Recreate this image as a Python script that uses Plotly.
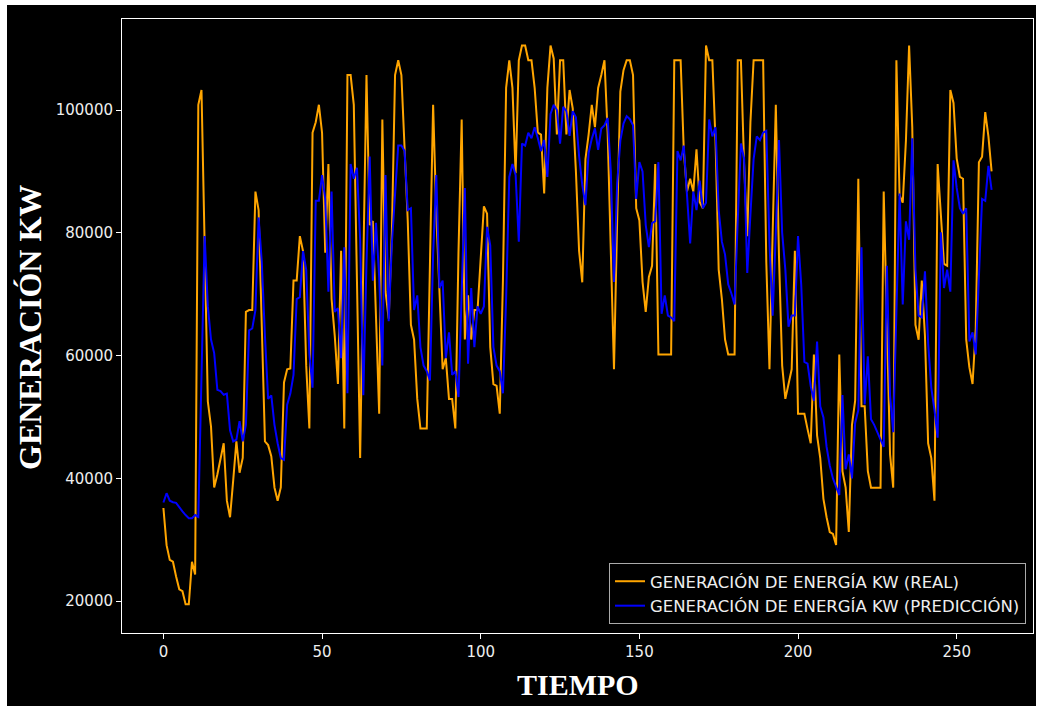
import plotly.graph_objects as go

real = [35150, 29100, 26700, 26400, 24000, 21900, 21600, 19450, 19450, 26400,
        24300, 100850, 103260, 76000, 52500, 48400, 38500, 40600, 43000, 45700,
        36350, 33650, 39700, 46000, 40900, 43300, 67100, 67400, 67400, 86700,
        83700, 64000, 46000, 45400, 43600, 38500, 36350, 38500, 55600, 57750,
        57900, 72200, 72200, 79450, 77000, 58350, 48100, 96300, 98000, 100850,
        96300, 76750, 91200, 69200, 63200, 55350, 77050, 48100, 105700, 105700,
        100850, 72000, 43300, 75000, 105700, 81260, 81900, 66200, 50500, 98450,
        70400, 66000, 80000, 105700, 108100, 105700, 93300, 82000, 65000, 62570,
        52930, 48110, 48110, 48110, 75000, 100850, 83000, 71000, 57750, 59560,
        52930, 52930, 48110, 77000, 98450, 62600, 69800, 62600, 67400, 67400,
        76000, 84300, 83100, 61370, 55350, 55050, 50520, 72200, 103600, 108100,
        103600, 89700, 108100, 110500, 110500, 108100, 108100, 103600, 96300, 96000,
        86400, 103600, 110500, 108400, 96000, 108100, 108100, 96000, 103260, 100250,
        90000, 77050, 71920, 92000, 96000, 100850, 97200, 103600, 105700, 108100,
        96300, 75800, 57750, 82000, 103000, 106500, 108100, 108100, 105700, 84000,
        82000, 72000, 67100, 72800, 74600, 91200, 60170, 60170, 60170, 60170,
        60170, 108100, 108100, 108100, 93300, 86700, 88800, 86700, 93600, 85000,
        84000, 110500, 108100, 108100, 95000, 74000, 69200, 62600, 60170, 60170,
        60170, 108100, 108100, 91200, 79450, 98000, 108100, 108100, 108100, 108100,
        75200, 57750, 80000, 100850, 76100, 58360, 52930, 55350, 57750, 77050,
        50500, 50500, 50500, 48000, 45700, 60170, 47000, 43300, 36650, 33650,
        31240, 30930, 29120, 60170, 41170, 38470, 31240, 48700, 52630, 88800,
        51730, 51730, 41170, 38470, 38470, 38470, 38470, 86700, 63000, 43890,
        38470, 108100, 86100, 84900, 95000, 110500, 97200, 65000, 62570, 72200,
        63180, 45700, 43290, 36350, 91200, 82500, 74930, 74630, 103260, 101150,
        92100, 89100, 88800, 62570, 58060, 55350, 64400, 91500, 92400, 99650,
        95700, 90000]

pred = [36050, 37560, 36350, 36100, 36000, 35200, 34600, 34000, 33500, 33500,
        34000, 33700, 56000, 79460, 68000, 62600, 60400, 54400, 54200, 53600,
        53800, 47800, 46000, 46300, 49300, 46000, 48700, 64100, 64400, 67400,
        82500, 75250, 63200, 52930, 53500, 48700, 45700, 43300, 43000, 52000,
        53800, 56850, 69200, 69500, 77000, 74000, 60200, 54750, 85200, 85200,
        89400, 85500, 70400, 86700, 67100, 67700, 59560, 77650, 53840, 91200,
        88800, 90600, 78850, 53540, 75000, 92400, 72200, 81600, 72800, 58360,
        89400, 65600, 78250, 87000, 94200, 94200, 93300, 83700, 84000, 67400,
        69800, 61370, 58360, 57450, 55950, 76440, 89400, 71000, 72200, 59560,
        63780, 56850, 57450, 53230, 69200, 87290, 58660, 71000, 61370, 68000,
        66800, 68000, 80960, 77950, 61370, 58360, 57450, 53840, 69200, 89100,
        91200, 89400, 78550, 94530, 94200, 96300, 95400, 97200, 95400, 93300,
        95100, 89100, 99350, 100850, 100000, 94500, 100500, 99800, 95800, 99800,
        98800, 92500, 87800, 84500, 93000, 95300, 97000, 93500, 97000, 97500,
        98700, 90000, 72000, 88000, 95000, 97800, 99000, 98500, 97500, 85500,
        91500, 90000, 81260, 77650, 81560, 81900, 91500, 66800, 69800, 66500,
        66200, 65600, 93300, 91800, 94200, 86000, 78250, 86700, 83700, 88500,
        84000, 84900, 98450, 95700, 97200, 83700, 78550, 76440, 71600, 70100,
        68300, 82000, 94530, 92100, 73430, 83000, 92000, 95700, 95100, 96300,
        96600, 78250, 66500, 80000, 95100, 80000, 74000, 64700, 66500, 66500,
        79450, 71600, 58960, 58660, 55000, 52630, 62280, 51730, 49920, 45100,
        42080, 39970, 38500, 37260, 53540, 41480, 43890, 39970, 49020, 51120,
        77650, 52030, 59860, 49620, 48700, 47500, 46600, 45100, 74630, 53540,
        47500, 68000, 86400, 68300, 81860, 78850, 95400, 74030, 66500, 66200,
        73730, 62000, 54740, 51120, 46600, 80060, 71000, 74000, 70400, 91800,
        87300, 84000, 83100, 84000, 62280, 63780, 60170, 72800, 85500, 85200,
        90900, 87000]

x_vals = list(range(len(real)))
x_ticks = [0, 50, 100, 150, 200, 250]
y_ticks = [20000, 40000, 60000, 80000, 100000]

W, H = 1041, 711
L, R, T, B = 122, 8, 19, 78
pw, ph = W - L - R, H - T - B

def px_to_paper_x(px):
    return (px - L) / pw

def px_to_paper_y(py):
    return (H - B - py) / ph

fig = go.Figure()
fig.add_trace(go.Scatter(x=x_vals, y=real, mode="lines",
                         line=dict(color="#FFA500", width=2),
                         name="GENERACIÓN DE ENERGÍA KW (REAL)"))
fig.add_trace(go.Scatter(x=x_vals, y=pred, mode="lines",
                         line=dict(color="#0000FF", width=2),
                         name="GENERACIÓN DE ENERGÍA KW (PREDICCIÓN)"))

fig.add_shape(type="rect", xref="paper", yref="paper",
              x0=px_to_paper_x(7), x1=px_to_paper_x(1036),
              y0=px_to_paper_y(706), y1=px_to_paper_y(5),
              fillcolor="black", line=dict(width=0), layer="below")

axis_common = dict(showgrid=False, zeroline=False, showline=True, mirror=True,
                   linecolor="white", linewidth=1, ticks="outside", ticklen=5,
                   tickwidth=1, tickcolor="white",
                   tickfont=dict(family="DejaVu Sans", size=15, color="#eeeeee"))

fig.update_xaxes(range=[-13.05, 274.05], tickvals=x_ticks,
                 ticktext=[str(v) for v in x_ticks], **axis_common)
fig.update_yaxes(range=[14786, 114827], tickvals=y_ticks,
                 ticktext=[str(v) for v in y_ticks], **axis_common)

fig.add_annotation(text="<b>TIEMPO</b>", xref="paper", yref="paper",
                   x=0.5, y=px_to_paper_y(684), xanchor="center", yanchor="middle",
                   showarrow=False,
                   font=dict(family="Liberation Serif", size=30, color="white"))
fig.add_annotation(text="<b>GENERACIÓN KW</b>", xref="paper", yref="paper",
                   x=px_to_paper_x(30), y=px_to_paper_y(328), xanchor="center", yanchor="middle",
                   textangle=-90, showarrow=False,
                   font=dict(family="Liberation Serif", size=32, color="white"))

fig.update_layout(
    width=W, height=H,
    margin=dict(l=L, r=R, t=T, b=B),
    paper_bgcolor="white", plot_bgcolor="black",
    showlegend=True,
    legend=dict(x=px_to_paper_x(1026), y=px_to_paper_y(624),
                xanchor="right", yanchor="bottom",
                bgcolor="black", bordercolor="#aaaaaa", borderwidth=1,
                font=dict(family="DejaVu Sans", size=16.5, color="#eeeeee"),
                tracegroupgap=0),
)

fig.write_html("out.html")
